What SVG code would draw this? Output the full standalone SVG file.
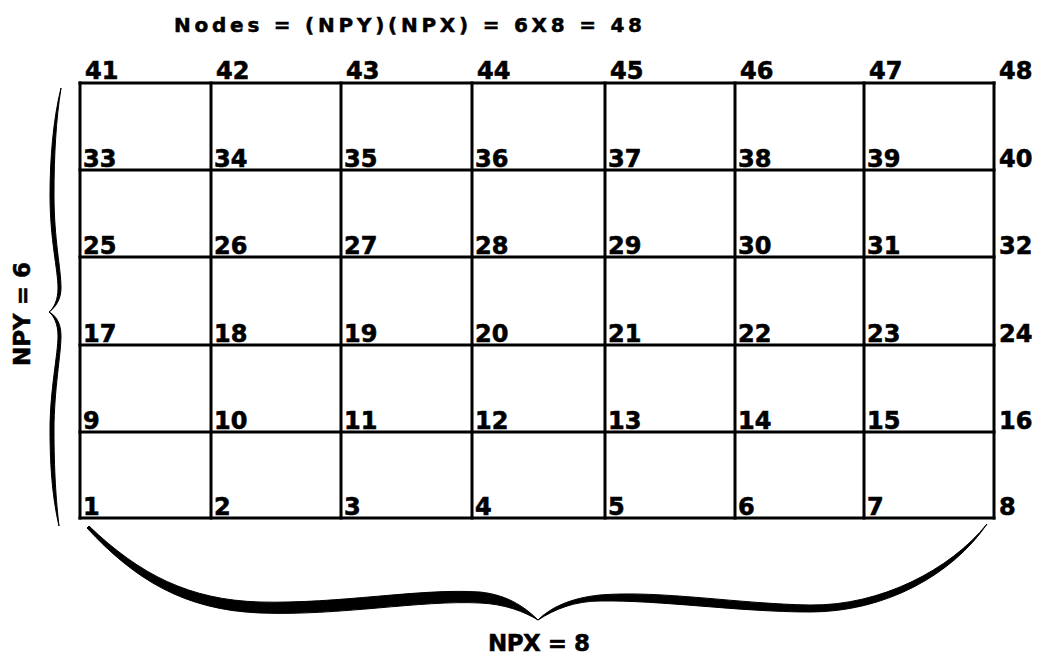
<svg xmlns="http://www.w3.org/2000/svg" width="1037" height="657" viewBox="0 0 1037 657">
<style>
.ln{stroke:#000;stroke-width:3;fill:none;stroke-linecap:square}
.lb{font-family:"DejaVu Sans",sans-serif;font-weight:bold;font-size:24px;fill:#000;stroke:#000;stroke-width:0.6}
.tt{font-family:"DejaVu Sans",sans-serif;font-weight:bold;font-size:20px;fill:#000;stroke:#000;stroke-width:0.5}
.ax{font-family:"DejaVu Sans",sans-serif;font-weight:bold;font-size:23px;fill:#000;stroke:#000;stroke-width:0.5}
.br{fill:#000;stroke:#000;stroke-width:1}
</style>
<rect width="1037" height="657" fill="#fff"/>
<text class="tt" x="174" y="32" textLength="468" lengthAdjust="spacing">Nodes = (NPY)(NPX) = 6X8 = 48</text>
<g id="connectors">
<path class="ln" d="M80 83H994M80 170H994M80 257H994M80 345H994M80 432H994M80 518H994"/>
<path class="ln" d="M80 83V518M211 83V518M341 83V518M472 83V518M605 83V518M735 83V518M864 83V518M994 83V518"/>
</g>
<g id="brace-npy">
<path class="br" d="M61 88 C53 120 50 160 50 195 C50 240 58 270 58 288 C58 300 54 308 49 312 C56 307 61 299 61 288 C61 268 54 240 54 195 C54 155 56 120 61 88 Z"/>
<path class="br" d="M49 312 C54 316 58 324 58 336 C58 354 50 390 50 430 C50 470 53 500 59 526 C56 500 54 470 54 430 C54 390 61 354 61 336 C61 322 55 315 49 312 Z"/>
<text class="ax" transform="translate(30 366) rotate(-90)" textLength="104" lengthAdjust="spacing">NPY = 6</text>
</g>
<g id="brace-npx">
<path class="br" d="M89 526 C140 575 190 600 260 602 C340 604 420 588 480 592 C510 595 528 610 538 620 C525 612 505 604 480 603 C420 600 340 616 260 613 C185 610 135 580 87 528 Z"/>
<path class="br" d="M538 620 C550 608 570 598 600 595 C660 590 740 604 810 605 C880 606 950 570 987 524 C952 575 885 612 810 612 C740 612 660 600 600 601 C575 601 555 609 538 620 Z"/>
<text class="ax" x="488" y="651" textLength="102" lengthAdjust="spacing">NPX = 8</text>
</g>
<g id="n41"><text class="lb" x="85" y="79">41</text></g>
<g id="n42"><text class="lb" x="216" y="79">42</text></g>
<g id="n43"><text class="lb" x="346" y="79">43</text></g>
<g id="n44"><text class="lb" x="477" y="79">44</text></g>
<g id="n45"><text class="lb" x="610" y="79">45</text></g>
<g id="n46"><text class="lb" x="740" y="79">46</text></g>
<g id="n47"><text class="lb" x="869" y="79">47</text></g>
<g id="n48"><text class="lb" x="999" y="79">48</text></g>
<g id="n33"><text class="lb" x="83" y="167">33</text></g>
<g id="n34"><text class="lb" x="214" y="167">34</text></g>
<g id="n35"><text class="lb" x="344" y="167">35</text></g>
<g id="n36"><text class="lb" x="475" y="167">36</text></g>
<g id="n37"><text class="lb" x="608" y="167">37</text></g>
<g id="n38"><text class="lb" x="738" y="167">38</text></g>
<g id="n39"><text class="lb" x="867" y="167">39</text></g>
<g id="n40"><text class="lb" x="999" y="167">40</text></g>
<g id="n25"><text class="lb" x="83" y="254">25</text></g>
<g id="n26"><text class="lb" x="214" y="254">26</text></g>
<g id="n27"><text class="lb" x="344" y="254">27</text></g>
<g id="n28"><text class="lb" x="475" y="254">28</text></g>
<g id="n29"><text class="lb" x="608" y="254">29</text></g>
<g id="n30"><text class="lb" x="738" y="254">30</text></g>
<g id="n31"><text class="lb" x="867" y="254">31</text></g>
<g id="n32"><text class="lb" x="999" y="254">32</text></g>
<g id="n17"><text class="lb" x="83" y="342">17</text></g>
<g id="n18"><text class="lb" x="214" y="342">18</text></g>
<g id="n19"><text class="lb" x="344" y="342">19</text></g>
<g id="n20"><text class="lb" x="475" y="342">20</text></g>
<g id="n21"><text class="lb" x="608" y="342">21</text></g>
<g id="n22"><text class="lb" x="738" y="342">22</text></g>
<g id="n23"><text class="lb" x="867" y="342">23</text></g>
<g id="n24"><text class="lb" x="999" y="342">24</text></g>
<g id="n9"><text class="lb" x="83" y="429">9</text></g>
<g id="n10"><text class="lb" x="214" y="429">10</text></g>
<g id="n11"><text class="lb" x="344" y="429">11</text></g>
<g id="n12"><text class="lb" x="475" y="429">12</text></g>
<g id="n13"><text class="lb" x="608" y="429">13</text></g>
<g id="n14"><text class="lb" x="738" y="429">14</text></g>
<g id="n15"><text class="lb" x="867" y="429">15</text></g>
<g id="n16"><text class="lb" x="999" y="429">16</text></g>
<g id="n1"><text class="lb" x="83" y="515">1</text></g>
<g id="n2"><text class="lb" x="214" y="515">2</text></g>
<g id="n3"><text class="lb" x="344" y="515">3</text></g>
<g id="n4"><text class="lb" x="475" y="515">4</text></g>
<g id="n5"><text class="lb" x="608" y="515">5</text></g>
<g id="n6"><text class="lb" x="738" y="515">6</text></g>
<g id="n7"><text class="lb" x="867" y="515">7</text></g>
<g id="n8"><text class="lb" x="999" y="515">8</text></g>
</svg>
